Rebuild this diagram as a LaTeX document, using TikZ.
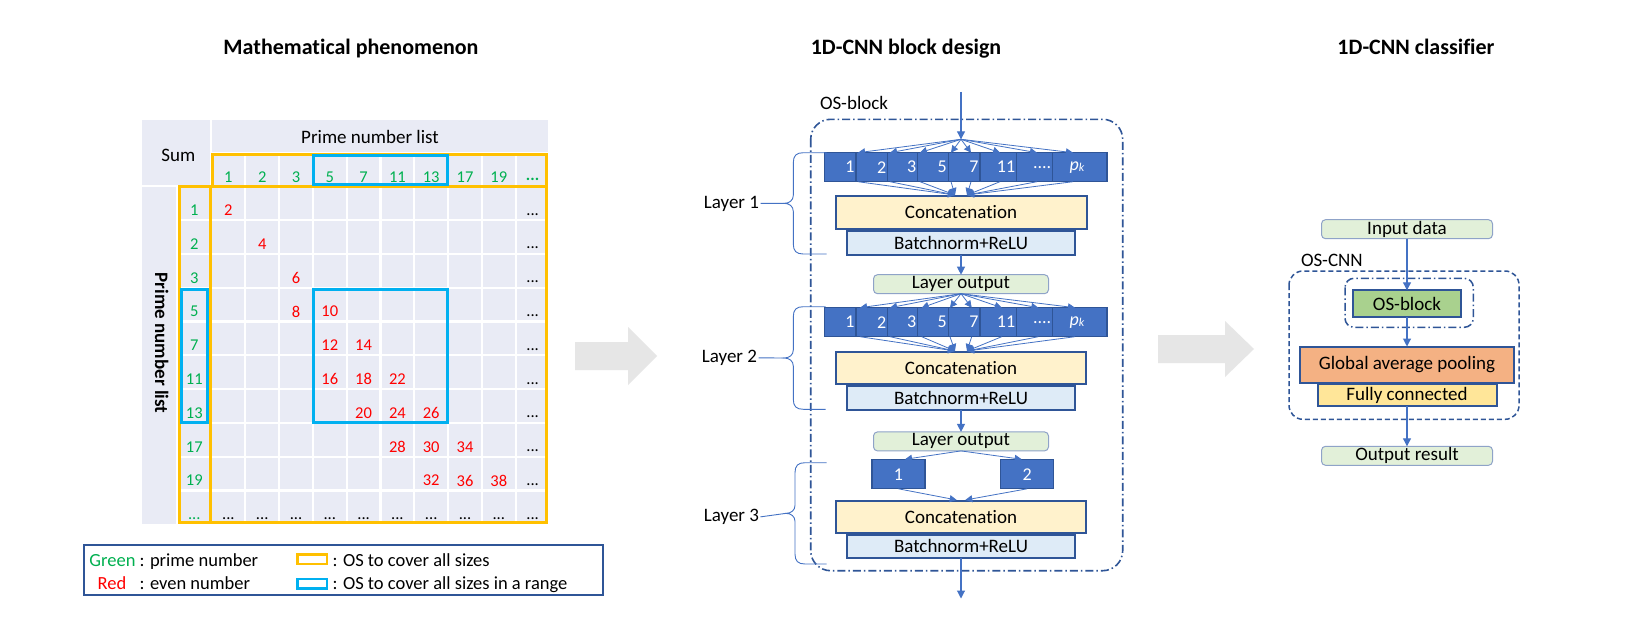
\documentclass[tikz,border=0pt]{standalone}
\usepackage{fontspec}
\setmainfont{Carlito}[Ligatures=NoCommon]
\usetikzlibrary{arrows.meta}
\definecolor{cellbg}{HTML}{E9EBF5}
\definecolor{ogold}{HTML}{FFC000}
\definecolor{oblue}{HTML}{00B0F0}
\definecolor{pgreen}{HTML}{00B050}
\definecolor{pred}{HTML}{FF0000}
\definecolor{dblue}{HTML}{2F5597}
\definecolor{mblue}{HTML}{4472C4}
\definecolor{concatc}{HTML}{FFF2CC}
\definecolor{bnc}{HTML}{DEEBF7}
\definecolor{outc}{HTML}{E2F0D9}
\definecolor{oscol}{HTML}{A9D18E}
\definecolor{gapc}{HTML}{F4B183}
\definecolor{fcc}{HTML}{FFE699}
\definecolor{arrowgray}{HTML}{E6E6E6}
\definecolor{lightborder}{HTML}{8FA3C8}
\tikzset{
  every node/.style={inner sep=0pt, outer sep=0pt},
  ttl/.style={font=\fontsize{22}{26}\selectfont\bfseries},
  txt/.style={font=\fontsize{19}{23}\selectfont},
  num/.style={font=\fontsize{16.5}{20}\selectfont},
  gnum/.style={num, text=pgreen},
  rnum/.style={num, text=pred},
  lgd/.style={font=\fontsize{18.5}{22}\selectfont},
  procbox/.style={draw=dblue, line width=2pt, txt},
  outbox/.style={draw=lightborder, line width=1pt, fill=outc, rounded corners=4pt, txt},
  convbox/.style={draw=dblue, line width=1.3pt, fill=mblue},
  convtxt/.style={font=\fontsize{18}{22}\selectfont, text=white},
  thinarrow/.style={mblue, line width=0.8pt, -{Triangle[length=7pt,width=7pt]}},
  varrow/.style={mblue, line width=1.1pt, -{Triangle[length=8pt,width=8pt]}},
  bracel/.style={mblue, line width=0.9pt},
  dashdotline/.style={dblue, line width=1.6pt, dash pattern=on 8pt off 3pt on 1.5pt off 3pt},
}
\begin{document}
\begin{tikzpicture}[x=1pt,y=-1pt]
\fill[white] (0,0) rectangle (1626,618);
\useasboundingbox (0,0) rectangle (1626,618);

% ---------- titles ----------
\node[ttl, anchor=base] (t1) at (351,55) {Mathematical phenomenon};
\node[ttl, anchor=base] (t2) at (906,55) {1D-CNN block design};
\node[ttl, anchor=base] (t3) at (1416,55) {1D-CNN classifier};

% ---------- table ----------
\fill[cellbg] (142,120) rectangle (548,524);
\begin{scope}[white, line width=2.2pt]
  \draw (210.8,120) -- (210.8,524);
  \draw (142,186.3) -- (548,186.3);
  \draw (177,186.3) -- (177,524);
  \draw (211.5,152.7) -- (548,152.7);
  \foreach \i in {1,...,9} \draw (211.5+33.8*\i,152.7) -- (211.5+33.8*\i,524);
  \foreach \j in {1,...,9} \draw (177,186.3+33.8*\j) -- (548,186.3+33.8*\j);
\end{scope}
\draw[ogold, line width=3pt] (212,154.2) rectangle (546.5,186.3);
\draw[ogold, line width=3pt] (179.2,186.3) rectangle (210.8,522.5);
\draw[ogold, line width=3pt] (210.8,186.3) rectangle (546.5,522.5);
\draw[oblue, line width=3pt] (313.2,155.8) rectangle (447.5,184.5);
\draw[oblue, line width=3pt] (181.5,289.8) rectangle (207.5,422.5);
\draw[oblue, line width=3pt] (313.2,289.8) rectangle (447.5,422.5);

\node[txt, anchor=base] (sum) at (178.3,161.7) {Sum};
\node[txt, anchor=base] (pnl) at (370,143) {Prime number list};
\node[txt, font=\fontsize{19}{23}\selectfont\bfseries, rotate=-90] (pnlv) at (161.7,343) {Prime number list};

\foreach \v [count=\k from 0] in {1,2,3,5,7,11,13,17,19}
  \node[gnum] (ch\k) at (228.4+33.8*\k,177) {\v};
\node[gnum, font=\fontsize{16.5}{20}\selectfont\bfseries, anchor=base] (ch9) at (532.6,180.5) {...};
\foreach \v [count=\k from 0] in {1,2,3,5,7,11,13,17,19}
  \node[gnum] (rh\k) at (194.3,210.2+33.8*\k) {\v};
\node[gnum, anchor=base] (rh9) at (194.3,519.5) {...};
\foreach \c/\r/\v [count=\k] in {0/0/2, 1/1/4, 2/2/6, 2/3/8, 3/3/10, 3/4/12, 4/4/14, 3/5/16, 4/5/18, 5/5/22, 4/6/20, 5/6/24, 6/6/26, 5/7/28, 6/7/30, 7/7/34, 6/8/32, 7/8/36, 8/8/38}
  \node[rnum] (bn\k) at (228.4+33.8*\c,210.2+33.8*\r) {\v};
\foreach \r in {0,...,8}
  \node[num, anchor=base] (el\r) at (532.6,215+33.8*\r) {...};
\foreach \c in {0,...,9}
  \node[num, anchor=base] (eb\c) at (228.4+33.8*\c,519.5) {...};

% ---------- legend ----------
\draw[dblue, line width=1.5pt] (84,545) rectangle (603,595);
\node[lgd, text=pgreen, anchor=base east] (lgA) at (135.5,566) {Green};
\node[lgd, anchor=base west] (lgAt) at (139.5,566) {: prime number};
\node[lgd, text=pred, anchor=base] (lgB) at (112,589) {Red};
\node[lgd, anchor=base west] (lgBt) at (139.5,589) {: even number};
\draw[ogold, line width=2.5pt] (297.5,554.5) rectangle (327,564);
\draw[oblue, line width=2.5pt] (297.5,579) rectangle (327,588.5);
\node[lgd, anchor=base west] (lgC) at (332.5,566) {: OS to cover all sizes};
\node[lgd, anchor=base west] (lgD) at (332.5,589) {: OS to cover all sizes in a range};

% ---------- big grey arrows ----------
\fill[arrowgray] (575,342) -- (628,342) -- (628,327) -- (657,356) -- (628,385) -- (628,370) -- (575,370) -- cycle;
\fill[arrowgray] (1158,335) -- (1225,335) -- (1225,321) -- (1254,349) -- (1225,377) -- (1225,363) -- (1158,363) -- cycle;

% ---------- OS-block (middle) ----------
\draw[dashdotline, rounded corners=20pt] (810.7,119.3) rectangle (1122.7,570.7);
\node[txt, anchor=base west] (osl) at (820,110) {OS-block};
\coordinate (in0) at (961,92);
\coordinate (fo1) at (961,139.3);
\draw[varrow] (in0) -- (fo1);

% conv rows
\foreach \row/\yc in {1/167.2, 2/322.2} {
  \foreach \xa/\xb/\lab [count=\k] in {824.3/856/1, 856/887.7/2, 887.7/917.7/3, 917.7/948.3/5, 948.3/980/7, 980/1016.7/11, 1016.7/1052.7/{....}} {
    \pgfmathsetmacro\w{\xb-\xa}
    \pgfmathsetmacro\xm{(\xa+\xb)/2}
    \node[convbox, minimum width=\w pt, minimum height=29pt] (cv\row-\k) at (\xm,\yc) {};
    \node[convtxt, anchor=east] (cvt\row-\k) at ([xshift=-1.5pt]cv\row-\k.east) {\lab};
  }
  \node[convbox, minimum width=54.3pt, minimum height=29pt] (cv\row-8) at (1079.85,\yc) {};
  \node[convtxt] (cvt\row-8) at (1077,\yc) {\textit{p}\raisebox{-1.5pt}{\fontsize{12}{12}\selectfont\itshape k}};
}

% layer 1
\node[procbox, fill=concatc, minimum width=251pt, minimum height=33pt] (cat1) at (961,212.5) {Concatenation};
\node[procbox, fill=bnc, minimum width=228pt, minimum height=24pt] (bn1) at (961,243) {Batchnorm+ReLU};
\coordinate (fi1a) at (955,195);
\coordinate (fi1b) at (967,195);
\foreach \tx [count=\k] in {858,890,920,951,971,1000,1037,1073} {
  \coordinate (tp1-\k) at (\tx,152.7);
  \coordinate (sb1-\k) at (\tx,181.7);
  \draw[thinarrow] (fo1) -- (tp1-\k);
}
\foreach \k in {1,...,4} \draw[thinarrow] (sb1-\k) -- (fi1a);
\foreach \k in {5,...,8} \draw[thinarrow] (sb1-\k) -- (fi1b);

% layer output 1
\node[outbox, minimum width=175pt, minimum height=19pt] (lo1) at (961,284.2) {Layer output};
\draw[varrow] (bn1.south) -- (lo1.north);

% layer 2
\node[procbox, fill=concatc, minimum width=250pt, minimum height=32pt] (cat2) at (961,368) {Concatenation};
\node[procbox, fill=bnc, minimum width=228pt, minimum height=24pt] (bn2) at (961,398) {Batchnorm+ReLU};
\coordinate (fi2a) at (955,351);
\coordinate (fi2b) at (967,351);
\foreach \tx [count=\k] in {860,890,921.7,950,971.7,1001.7,1038.3,1075} {
  \coordinate (tp2-\k) at (\tx,307.7);
  \coordinate (sb2-\k) at (\tx,336.7);
  \draw[thinarrow] (lo1.south) -- (tp2-\k);
}
\foreach \k in {1,...,4} \draw[thinarrow] (sb2-\k) -- (fi2a);
\foreach \k in {5,...,8} \draw[thinarrow] (sb2-\k) -- (fi2b);

% layer output 2
\node[outbox, minimum width=175pt, minimum height=19pt] (lo2) at (961,441.4) {Layer output};
\draw[varrow] (bn2.south) -- (lo2.north);

% layer 3
\node[convbox, minimum width=53pt, minimum height=29pt] (b31) at (898.4,474.3) {};
\node[convtxt] (b31t) at (b31) {1};
\node[convbox, minimum width=53pt, minimum height=29pt] (b32) at (1027.2,474.3) {};
\node[convtxt] (b32t) at (b32) {2};
\coordinate (tp3a) at (905,459.3);
\coordinate (tp3b) at (1021.7,459.3);
\draw[thinarrow] (lo2.south) -- (tp3a);
\draw[thinarrow] (lo2.south) -- (tp3b);
\node[procbox, fill=concatc, minimum width=250pt, minimum height=32pt] (cat3) at (961,517) {Concatenation};
\node[procbox, fill=bnc, minimum width=228pt, minimum height=23pt] (bn3) at (961,546.2) {Batchnorm+ReLU};
\coordinate (fi3a) at (956.7,500);
\coordinate (fi3b) at (965.3,500);
\draw[thinarrow] (b31.south) -- (fi3a);
\draw[thinarrow] (b32.south) -- (fi3b);
\coordinate (outm) at (961,598.5);
\draw[varrow] (bn3.south) -- (outm);

% braces and labels
\node[txt, anchor=base east] (L1) at (759,208) {Layer 1};
\node[txt, anchor=base east] (L2) at (757,362.5) {Layer 2};
\node[txt, anchor=base east] (L3) at (759,521.5) {Layer 3};
\foreach \t/\b/\s/\tip/\n in {152.7/254/793.3/826.7/1, 306.7/409.3/793.3/825.7/2, 462.7/564/795/826.7/3} {
  \pgfmathsetmacro\m{(\t+\b)/2}
  \coordinate (bp\n) at (\s-9,\m);
  \draw[bracel] (\tip,\t) -- (\s+10,\t) .. controls (\s+3,\t) and (\s,\t+3) .. (\s,\t+10) -- (\s,\m-8) .. controls (\s,\m-3) and (\s-4,\m) .. (bp\n) .. controls (\s-4,\m) and (\s,\m+3) .. (\s,\m+8) -- (\s,\b-10) .. controls (\s,\b-3) and (\s+3,\b) .. (\s+10,\b) -- (\tip,\b);
  \draw[bracel] ([xshift=1.5pt]L\n.east) -- (bp\n);
}

% ---------- classifier (right) ----------
\draw[dblue, line width=1.5pt, dash pattern=on 5pt off 3pt, rounded corners=14pt] (1289,271) rectangle (1519,419.3);
\node[txt, anchor=base west] (oscnn) at (1301,266) {OS-CNN};
\draw[dashdotline, line width=1.5pt, rounded corners=9pt] (1345,278.3) rectangle (1473.3,327.3);
\node[outbox, minimum width=171pt, minimum height=19pt] (inp) at (1407,229.2) {Input data};
\node[procbox, fill=oscol, minimum width=108pt, minimum height=27pt] (osb) at (1407,303.8) {OS-block};
\node[procbox, fill=gapc, minimum width=214pt, minimum height=36pt] (gap) at (1407,364.5) {Global average pooling};
\node[procbox, fill=fcc, minimum width=179pt, minimum height=22pt] (fc) at (1407,395) {Fully connected};
\node[outbox, minimum width=171pt, minimum height=19pt] (outr) at (1407,455.8) {Output result};
\draw[varrow] (inp.south) -- (osb.north);
\draw[varrow] (osb.south) -- (gap.north);
\draw[varrow] (fc.south) -- (outr.north);
\end{tikzpicture}
\end{document}
